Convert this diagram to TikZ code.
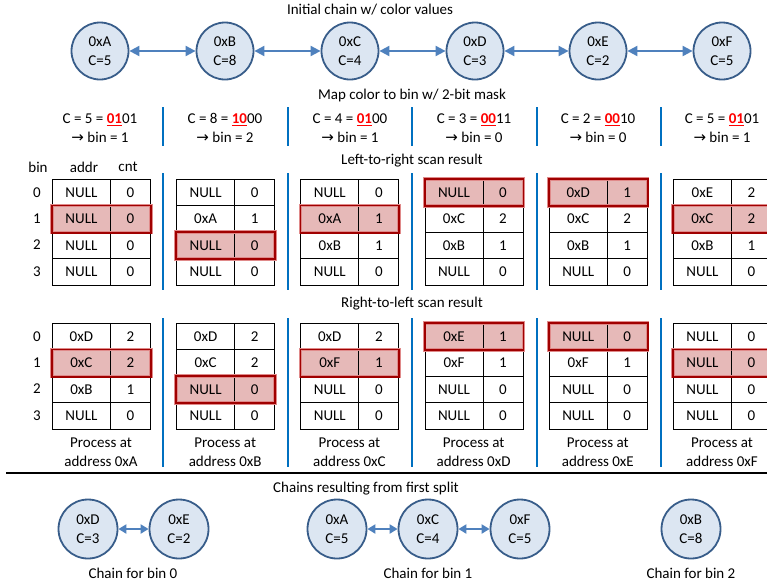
\documentclass[tikz,border=0pt]{standalone}
\usepackage{fontspec}
\setmainfont{Carlito}
\newfontfamily\symfont{DejaVu Sans}
\usetikzlibrary{arrows.meta}
\definecolor{circfill}{HTML}{DCE6F2}
\definecolor{circdraw}{HTML}{385D8A}
\definecolor{arrowblue}{HTML}{4F81BD}
\definecolor{sepblue}{HTML}{0070C0}
\definecolor{hlfill}{HTML}{E6B9B8}
\definecolor{hlborder}{HTML}{A00000}
\definecolor{hlglow}{HTML}{E08A8A}
\newcommand\hb[1]{{\color{red}\underline{\textbf{#1}}}}
\newcommand\arr{{\symfont\fontsize{15}{19}\selectfont →}}
\begin{document}
\begin{tikzpicture}[x=1pt,y=-1pt,
  every node/.style={font=\fontsize{15}{19}\selectfont, inner sep=0pt},
  chainnode/.style={circle, draw=circdraw, fill=circfill, line width=1.8pt, minimum size=57pt, align=center},
  link/.style={arrows={Triangle[length=10pt,width=10pt]-Triangle[length=10pt,width=10pt]}, draw=arrowblue, line width=2pt},
  slink/.style={arrows={Triangle[length=8pt,width=9pt]-Triangle[length=8pt,width=9pt]}, draw=arrowblue, line width=2pt},
  cell/.style={draw=black, line width=0.8pt, minimum height=26.4pt, anchor=north west},
  hlglowbox/.style={draw=hlglow, line width=3.6pt},
  hlbox/.style={draw=hlborder, line width=1.8pt},
  sepline/.style={draw=sepblue, line width=2pt},
  masktext/.style={anchor=base}]
\useasboundingbox (0,0) rectangle (767,584);
\clip (0,0) rectangle (767,584);
\fill[white] (0,0) rectangle (767,584);

% titles
\node (ttl1) at (370,10) {Initial chain w/ color values};
\node (ttl2) at (412,95) {Map color to bin w/ 2-bit mask};
\node (ttl3) at (412,161) {Left-to-right scan result};
\node (ttl4) at (412,304) {Right-to-left scan result};
\node (ttl5) at (366,489) {Chains resulting from first split};

% initial chain
\foreach \n/\c/\x in {A/5/100,B/8/225,C/4/350,D/3/475,E/2/598,F/5/722}
  \node[chainnode] (t\n) at (\x,51) {0x\n\\C=\c};
\draw[link] (tA) -- (tB);
\draw[link] (tB) -- (tC);
\draw[link] (tC) -- (tD);
\draw[link] (tD) -- (tE);
\draw[link] (tE) -- (tF);

% mask texts
\foreach \k/\x/\c/\hi/\lo/\b in {1/100/5/01/01/1, 2/225/8/10/00/2, 3/350/4/01/00/1, 4/474/3/00/11/0, 5/598/2/00/10/0, 6/722/5/01/01/1} {
  \node[masktext] (m\k a) at (\x,123.5) {C = \c\ = \hb{\hi}\lo};
  \node[masktext] (m\k b) at (\x,142.5) {\arr\ bin = \b};
}

% separators
\foreach \x in {163,287.5,412,536.5,661} {
  \draw[sepline] (\x,107) -- (\x,146);
  \draw[sepline] (\x,173) -- (\x,290);
  \draw[sepline] (\x,318) -- (\x,467);
}

% headers
\node (hbin) at (38,167) {bin};
\node (haddr) at (84,167) {addr};
\node (hcnt) at (128,167) {cnt};
\foreach \r in {0,...,3} {
  \node (lbl\r) at (37,{192.2+26.4*\r}) {\r};
  \node (rlbl\r) at (37,{336.2+26.4*\r}) {\r};
}

% left-to-right tables
\foreach \i/\hl/\rows in {1/1/{NULL/0,NULL/0,NULL/0,NULL/0},2/2/{NULL/0,0xA/1,NULL/0,NULL/0},3/1/{NULL/0,0xA/1,0xB/1,NULL/0},4/0/{NULL/0,0xC/2,0xB/1,NULL/0},5/0/{0xD/1,0xC/2,0xB/1,NULL/0},6/1/{0xE/2,0xC/2,0xB/1,NULL/0}} {
  \pgfmathsetmacro\xl{52+124.2*(\i-1)}
  \fill[hlfill] (\xl,{179+26.4*\hl}) rectangle ++(98,26.4);
  \foreach \a/\c [count=\r from 0] in \rows {
    \node[cell, minimum width=58pt] (La\i-\r) at (\xl,{179+26.4*\r}) {\a};
    \node[cell, minimum width=40pt] (Lc\i-\r) at ({\xl+58},{179+26.4*\r}) {\c};
  }
  \draw[hlglowbox] (La\i-\hl.north west) rectangle (Lc\i-\hl.south east);
  \draw[hlbox] (La\i-\hl.north west) rectangle (Lc\i-\hl.south east);
}

% right-to-left tables
\foreach \i/\hl/\rows in {1/1/{0xD/2,0xC/2,0xB/1,NULL/0},2/2/{0xD/2,0xC/2,NULL/0,NULL/0},3/1/{0xD/2,0xF/1,NULL/0,NULL/0},4/0/{0xE/1,0xF/1,NULL/0,NULL/0},5/0/{NULL/0,0xF/1,NULL/0,NULL/0},6/1/{NULL/0,NULL/0,NULL/0,NULL/0}} {
  \pgfmathsetmacro\xl{52+124.2*(\i-1)}
  \fill[hlfill] (\xl,{323+26.4*\hl}) rectangle ++(98,26.4);
  \foreach \a/\c [count=\r from 0] in \rows {
    \node[cell, minimum width=58pt] (Ra\i-\r) at (\xl,{323+26.4*\r}) {\a};
    \node[cell, minimum width=40pt] (Rc\i-\r) at ({\xl+58},{323+26.4*\r}) {\c};
  }
  \draw[hlglowbox] (Ra\i-\hl.north west) rectangle (Rc\i-\hl.south east);
  \draw[hlbox] (Ra\i-\hl.north west) rectangle (Rc\i-\hl.south east);
}

% process labels
\foreach \i/\n in {1/A,2/B,3/C,4/D,5/E,6/F}
  \node[align=center] (p\i) at ({101+124.2*(\i-1)},452.5) {Process at\\address 0x\n};

% rule
\draw[line width=2pt] (6,473) -- (767,473);

% resulting chains
\node[chainnode, minimum size=59pt] (bD) at (88,529) {0xD\\C=3};
\node[chainnode, minimum size=59pt] (bE) at (179,529) {0xE\\C=2};
\node[chainnode, minimum size=59pt] (bA) at (337,529) {0xA\\C=5};
\node[chainnode, minimum size=59pt] (bC) at (428,529) {0xC\\C=4};
\node[chainnode, minimum size=59pt] (bF) at (520,529) {0xF\\C=5};
\node[chainnode, minimum size=59pt] (bB) at (691,529) {0xB\\C=8};
\draw[slink] (bD) -- (bE);
\draw[slink] (bA) -- (bC);
\draw[slink] (bC) -- (bF);
\node (cb0) at (133,573) {Chain for bin 0};
\node (cb1) at (428,573) {Chain for bin 1};
\node (cb2) at (691,573) {Chain for bin 2};
\end{tikzpicture}
\end{document}
